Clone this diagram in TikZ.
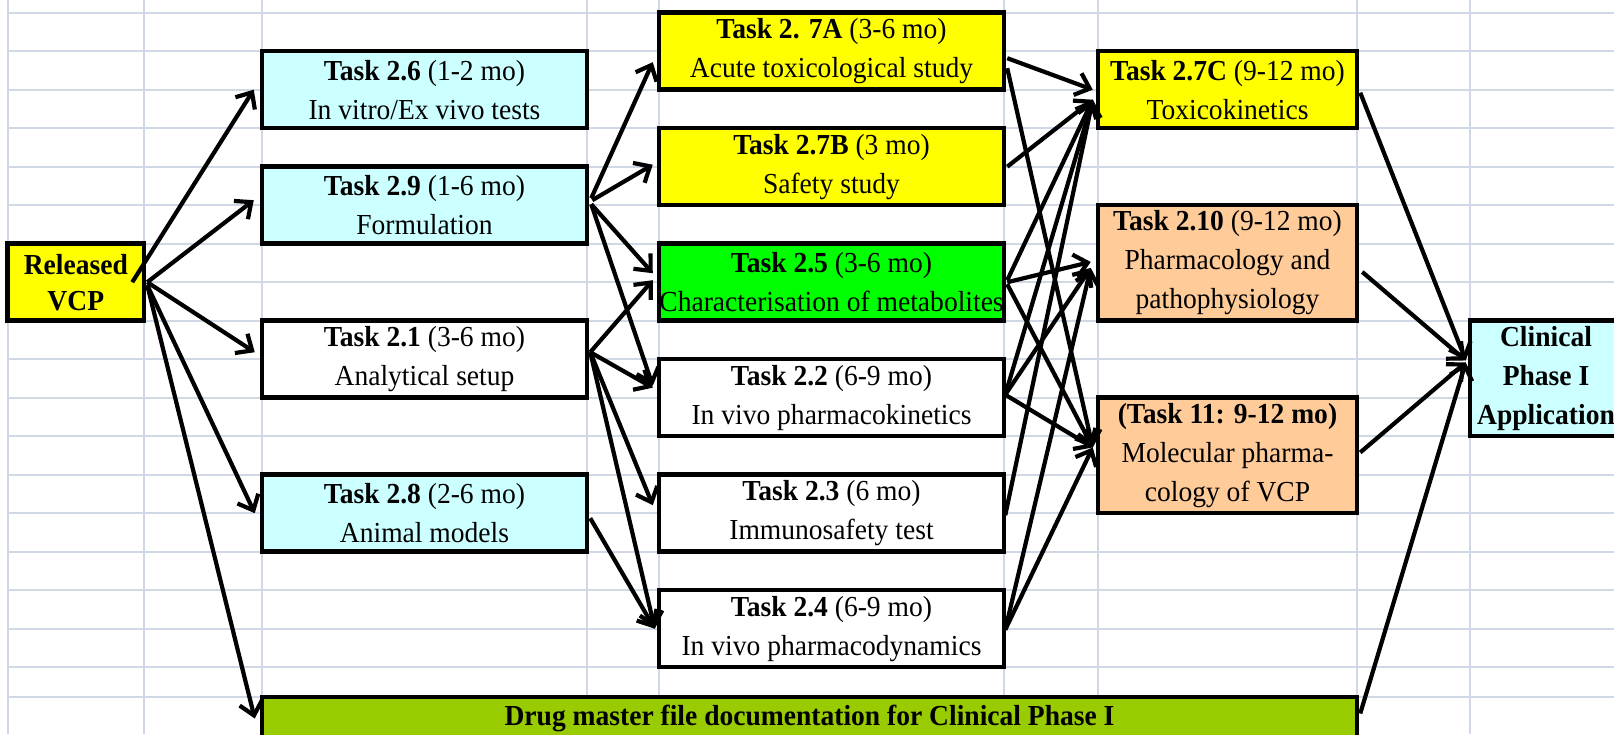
\documentclass[tikz,border=0pt]{standalone}
\usepackage{fontspec}
\setmainfont{Liberation Serif}[FakeStretch=0.95]
\usetikzlibrary{arrows.meta,calc}
\definecolor{gridc}{RGB}{208,215,229}
\definecolor{cyanbox}{RGB}{204,255,255}
\definecolor{yelbox}{RGB}{255,255,0}
\definecolor{grnbox}{RGB}{0,255,0}
\definecolor{peachbox}{RGB}{255,204,153}
\definecolor{olivebox}{RGB}{153,204,0}
\begin{document}
\begin{tikzpicture}[x=1pt,y=-1pt,
  box/.style={draw=black, line width=4.5pt, inner sep=0pt, align=center,
    font=\fontsize{29}{39}\selectfont},
  c2/.style={box, minimum width=325pt, minimum height=77pt},
  c3/.style={box, minimum width=345pt, minimum height=77pt},
  c4/.style={box, minimum width=259pt},
  arr/.style={line width=4.2pt, -{Straight Barb[length=13pt,width=23pt]}},
  gridline/.style={draw=gridc, line width=2pt}
]
\useasboundingbox (0,0) rectangle (1614,734);
\clip (0,0) rectangle (1614,734);
\fill[white] (0,0) rectangle (1614,734);
% spreadsheet grid
\foreach \x in {7.6,144,262,587,659,1004,1098,1357,1470}
  \draw[gridline] (\x,0) -- (\x,734);
\foreach \y in {12.7,51.2,89.7,128.2,166.7,205.2,243.7,282.2,320.7,359.2,397.7,436.2,474.7,513.2,551.7,590.2,628.7,667.2,697}
  \draw[gridline] (7.6,\y) -- (1614,\y);

% nodes
\node[box, fill=yelbox, minimum width=136.4pt, minimum height=77pt,
  font=\fontsize{29}{36}\selectfont\bfseries] (vcp) at (75.8,282.2) {Released\\VCP};

\node[c2, fill=cyanbox] (t26) at (424.5,89.7) {\textbf{Task 2.6} (1-2 mo)\\In vitro/Ex vivo tests};
\node[c2, fill=cyanbox] (t29) at (424.5,205.2) {\textbf{Task 2.9} (1-6 mo)\\Formulation};
\node[c2, fill=white] (t21) at (424.5,359.2) {\textbf{Task 2.1} (3-6 mo)\\Analytical setup};
\node[c2, fill=cyanbox] (t28) at (424.5,513.2) {\textbf{Task 2.8} (2-6 mo)\\Animal models};

\node[c3, fill=yelbox] (t27a) at (831.5,51.2) {\textbf{Task 2. 7A} (3-6 mo)\\Acute toxicological study};
\node[c3, fill=yelbox] (t27b) at (831.5,166.7) {\textbf{Task 2.7B} (3 mo)\\Safety study};
\node[c3, fill=grnbox] (t25) at (831.5,282.2) {\textbf{Task 2.5} (3-6 mo)\\Characterisation of metabolites};
\node[c3, fill=white] (t22) at (831.5,397.7) {\textbf{Task 2.2} (6-9 mo)\\In vivo pharmacokinetics};
\node[c3, fill=white] (t23) at (831.5,513.2) {\textbf{Task 2.3} (6 mo)\\Immunosafety test};
\node[c3, fill=white] (t24) at (831.5,628.7) {\textbf{Task 2.4} (6-9 mo)\\In vivo pharmacodynamics};

\node[c4, fill=yelbox, minimum height=77pt] (t27c) at (1227.5,89.7) {\textbf{Task 2.7C} (9-12 mo)\\Toxicokinetics};
\node[c4, fill=peachbox, minimum height=115.5pt] (t210) at (1227.5,262.95) {\textbf{Task 2.10} (9-12 mo)\\Pharmacology and\\pathophysiology};
\node[c4, fill=peachbox, minimum height=115.5pt] (t11) at (1227.5,455.45) {\textbf{(Task 11: 9-12 mo)}\\Molecular pharma-\\cology of VCP};

\node[box, fill=cyanbox, minimum width=152pt, minimum height=115.5pt,
  font=\fontsize{29}{39}\selectfont\bfseries] (clin) at (1546,378.45) {Clinical\\Phase I\\Application};

\node[box, fill=olivebox, minimum width=1095pt, minimum height=43pt,
  font=\fontsize{29}{39}\selectfont\bfseries] (dmf) at (809.5,718.5) {Drug master file documentation for Clinical Phase I};

% connectors: Released VCP
\draw[arr] ($(vcp.east)+(-14,0)$) -- ($(t26.west)+(-6,0)$);
\draw[arr] ($(vcp.east)+(1,0)$) -- ($(t29.west)+(-6,-5)$);
\draw[arr] ($(vcp.east)+(1,0)$) -- ($(t21.west)+(-5,-7)$);
\draw[arr] ($(vcp.east)+(1,3)$) -- ($(t28.west)+(-5,0)$);
\draw[arr] ($(vcp.east)+(1,3)$) -- ($(dmf.west)+(-5,0)$);

% column 2 -> column 3
\draw[arr] ($(t29.east)+(2,-7)$) -- ($(t27a.west)+(-4,11)$);
\draw[arr] ($(t29.east)+(3,-5)$) -- ($(t27b.west)+(-4,-2)$);
\draw[arr] ($(t29.east)+(2,-1)$) -- ($(t25.west)+(-4,-9)$);
\draw[arr] ($(t29.east)+(2,-1)$) -- ($(t22.west)+(-4,-12)$);
\draw[arr] ($(t21.east)+(1,-7)$) -- ($(t25.west)+(-4,-2)$);
\draw[arr] ($(t21.east)+(1,-7)$) -- ($(t22.west)+(-4,-10)$);
\draw[arr] ($(t21.east)+(1,-7)$) -- ($(t23.west)+(-4,-8)$);
\draw[arr] ($(t21.east)+(1,-7)$) -- ($(t24.west)+(-2,0)$);
\draw[arr] ($(t28.east)+(1,5)$) -- ($(t24.west)+(-2,0)$);

% column 3 -> column 4
\draw[arr] ($(t27a.east)+(1,7)$) -- ($(t27c.west)+(-3,0)$);
\draw[arr] ($(t27a.east)+(1,17)$) -- ($(t11.west)+(-3,-8)$);
\draw[arr] ($(t27b.east)+(1,0)$) -- ($(t27c.west)+(-3,10)$);
\draw[arr] ($(t25.east)+(1,-2)$) -- ($(t27c.west)+(-3,10)$);
\draw[arr] ($(t25.east)+(1,0)$) -- ($(t210.west)+(-5,-1)$);
\draw[arr] ($(t25.east)+(1,2)$) -- ($(t11.west)+(-3,-8)$);
\draw[arr] ($(t22.east)+(-1,-3)$) -- ($(t27c.west)+(-3,10)$);
\draw[arr] ($(t22.east)+(-1,-3)$) -- ($(t210.west)+(-5,5)$);
\draw[arr] ($(t22.east)+(-1,-3)$) -- ($(t11.west)+(-3,-8)$);
\draw[arr] ($(t23.east)+(-1,2)$) -- ($(t27c.west)+(-3,10)$);
\draw[arr] ($(t24.east)+(-1,1)$) -- ($(t210.west)+(-5,5)$);
\draw[arr] ($(t24.east)+(-1,1)$) -- ($(t11.west)+(-3,-8)$);

% column 4 -> Clinical Phase I
\draw[arr] ($(t27c.east)+(1,3)$) -- ($(clin.west)+(-2,-18)$);
\draw[arr] ($(t210.east)+(3,9)$) -- ($(clin.west)+(-2,-18)$);
\draw[arr] ($(t11.east)+(1,-3)$) -- ($(clin.west)+(-2,-16)$);
\draw[arr] ($(dmf.east)+(1,-5)$) -- ($(clin.west)+(-2,-16)$);
\end{tikzpicture}
\end{document}
